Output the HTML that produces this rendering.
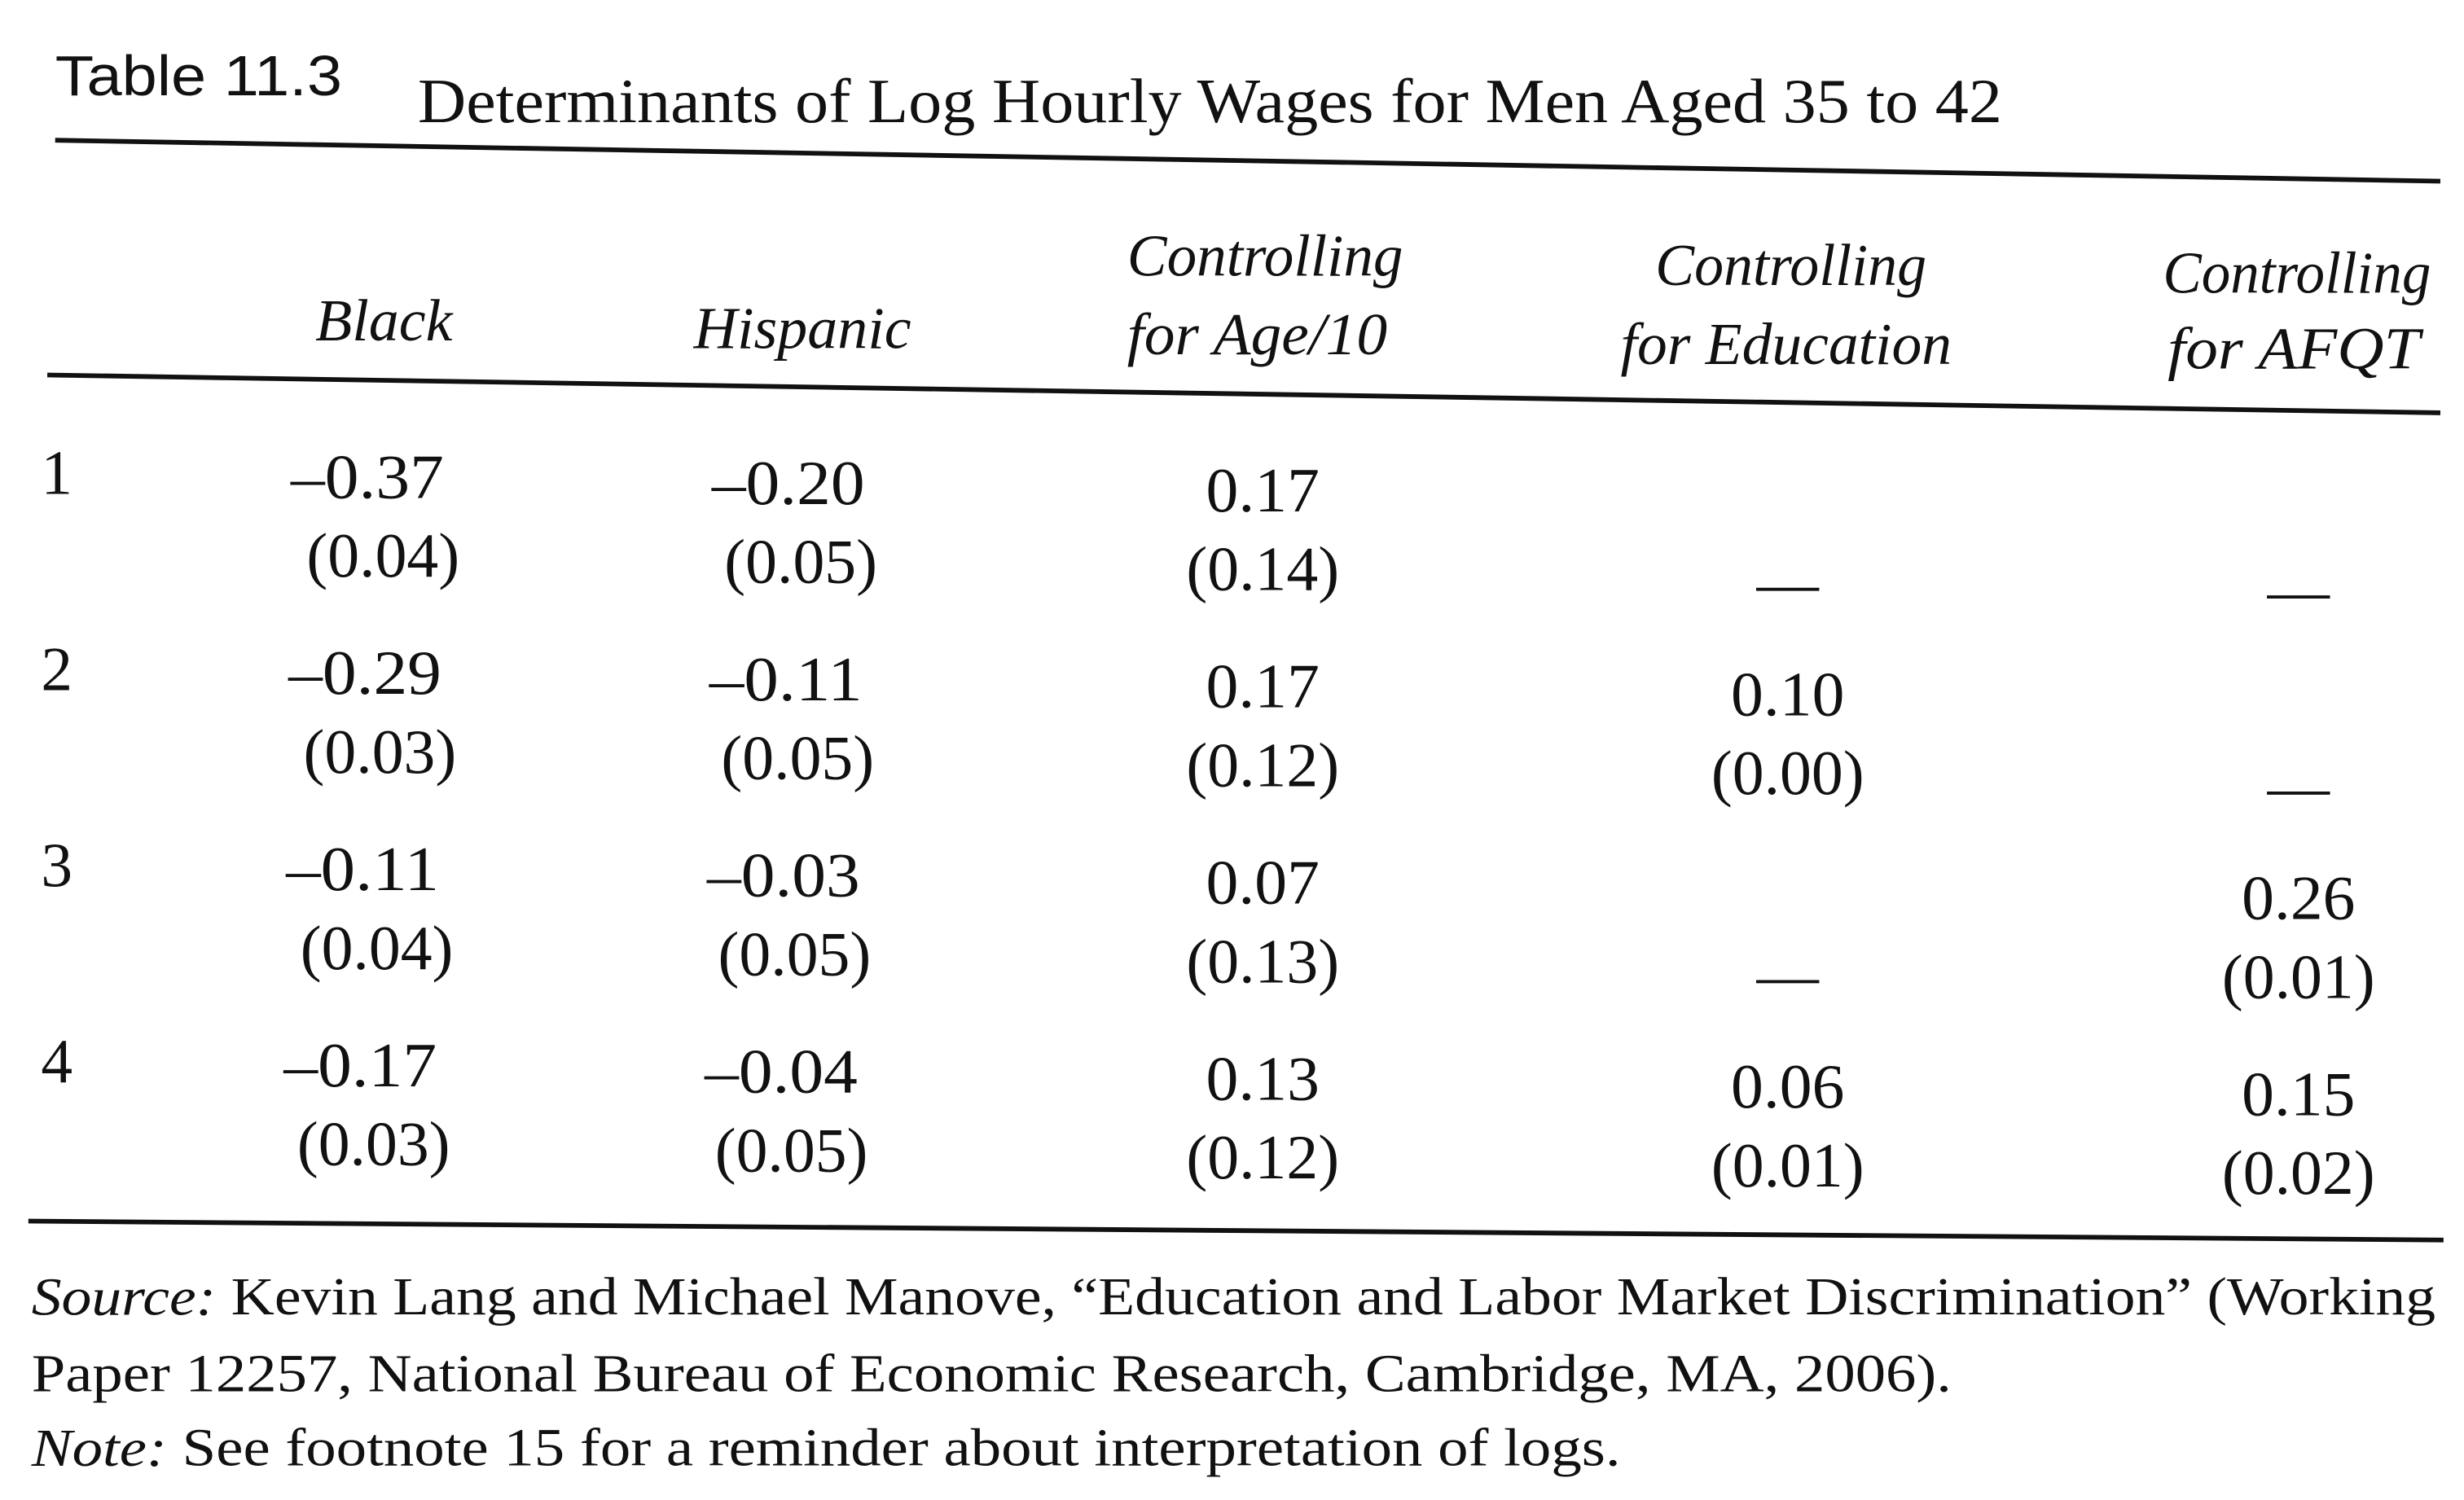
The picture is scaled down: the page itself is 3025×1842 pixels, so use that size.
<!DOCTYPE html>
<html><head><meta charset="utf-8">
<style>
html,body{margin:0;padding:0;background:#fff;}
svg{display:block;}
text{font-family:"Liberation Serif",serif;fill:#111;dominant-baseline:central;}
.it{font-style:italic;}
.sans{font-family:"Liberation Sans",sans-serif;}
</style></head>
<body>
<svg id="tbl" width="3025" height="1842" viewBox="0 0 1563 952" preserveAspectRatio="none" xmlns="http://www.w3.org/2000/svg">
<text class="sans" x="35" y="48" font-size="36" textLength="182" lengthAdjust="spacingAndGlyphs">Table 11.3</text>
<text x="265" y="64" font-size="40" textLength="1005" lengthAdjust="spacingAndGlyphs">Determinants of Log Hourly Wages for Men Aged 35 to 42</text>
<line x1="35" y1="89" x2="1548" y2="115" stroke="#111" stroke-width="3"/>
<text class="it" x="200" y="203" font-size="38" textLength="87" lengthAdjust="spacingAndGlyphs">Black</text>
<text class="it" x="440" y="208" font-size="38" textLength="138" lengthAdjust="spacingAndGlyphs">Hispanic</text>
<text class="it" x="715" y="162" font-size="38" textLength="175" lengthAdjust="spacingAndGlyphs">Controlling</text>
<text class="it" x="715" y="212" font-size="38" textLength="165" lengthAdjust="spacingAndGlyphs">for Age/10</text>
<text class="it" x="1050" y="168" font-size="38" textLength="172" lengthAdjust="spacingAndGlyphs">Controlling</text>
<text class="it" x="1028" y="218" font-size="38" textLength="210" lengthAdjust="spacingAndGlyphs">for Education</text>
<text class="it" x="1372" y="173" font-size="38" textLength="170" lengthAdjust="spacingAndGlyphs">Controlling</text>
<text class="it" x="1375" y="221" font-size="38" textLength="160" lengthAdjust="spacingAndGlyphs">for AFQT</text>
<line x1="30" y1="238" x2="1548" y2="262" stroke="#111" stroke-width="3"/>
<g id="body"></g>
<line x1="18" y1="775" x2="1550" y2="787" stroke="#111" stroke-width="3"/>
<text x="20" y="823" font-size="34" textLength="1525" lengthAdjust="spacingAndGlyphs"><tspan class="it">Source:</tspan> Kevin Lang and Michael Manove, “Education and Labor Market Discrimination” (Working</text>
<text x="20" y="872" font-size="34" textLength="1218" lengthAdjust="spacingAndGlyphs">Paper 12257, National Bureau of Economic Research, Cambridge, MA, 2006).</text>
<text x="20" y="919" font-size="34" textLength="1008" lengthAdjust="spacingAndGlyphs"><tspan class="it">Note:</tspan> See footnote 15 for a reminder about interpretation of logs.</text>
</svg>
<script>
const rowLabels = ["1","2","3","4"];
const columns = ["black","hispanic","age","education","afqt"];
const coefBlack = ["\u20130.37","\u20130.29","\u20130.11","\u20130.17"];
const seBlack = ["(0.04)","(0.03)","(0.04)","(0.03)"];
const coefHispanic = ["\u20130.20","\u20130.11","\u20130.03","\u20130.04"];
const seHispanic = ["(0.05)","(0.05)","(0.05)","(0.05)"];
const coefAge = ["0.17","0.17","0.07","0.13"];
const seAge = ["(0.14)","(0.12)","(0.13)","(0.12)"];
const coefEdu = [null,"0.10",null,"0.06"];
const seEdu = [null,"(0.00)",null,"(0.01)"];
const coefAfqt = [null,null,"0.26","0.15"];
const seAfqt = [null,null,"(0.01)","(0.02)"];

const NS="http://www.w3.org/2000/svg";
const body=document.getElementById('body');
const rowY=i=>300+i*124.5;
const colX=[233,498,801,1134,1458];
const slope=0.015;
function addText(str,x,y,name,len){
  const t=document.createElementNS(NS,'text');
  t.setAttribute('x',x);t.setAttribute('y',y);
  t.setAttribute('font-size','40');
  t.setAttribute('text-anchor','middle');
  if(len){t.setAttribute('textLength',len);t.setAttribute('lengthAdjust','spacingAndGlyphs');}
  t.textContent=str;
  
  
  body.appendChild(t);
}
const coefs=[coefBlack,coefHispanic,coefAge,coefEdu,coefAfqt];
const ses=[seBlack,seHispanic,seAge,seEdu,seAfqt];
const coefShift=[0,2,0,0,0];
const seShift=[10,10,0,0,0];
rowLabels.forEach((lab,i)=>{
  const y0=rowY(i);
  addText(lab,36,y0,'row-label-'+lab);
  coefs.forEach((arr,j)=>{
    const x=colX[j];
    const dy=x*slope-3;
    const c=arr[i], s=ses[j][i];
    if(c===null){
      const l=document.createElementNS(NS,'line');
      const ly=y0+dy+60;
      l.setAttribute('x1',x-20);l.setAttribute('x2',x+20);
      l.setAttribute('y1',ly);l.setAttribute('y2',ly);
      l.setAttribute('stroke','#111');l.setAttribute('stroke-width','2');
      
      
      body.appendChild(l);
    } else {
      addText(c,x+coefShift[j]-(j<2?i*1.5:0),y0+dy+2,'coef-'+columns[j]+'-'+lab, c.length>4?97:72);
      addText(s,x+seShift[j]-(j<2?i*2:0),y0+dy+52,'se-'+columns[j]+'-'+lab,97);
    }
  });
});
</script>
</body></html>
